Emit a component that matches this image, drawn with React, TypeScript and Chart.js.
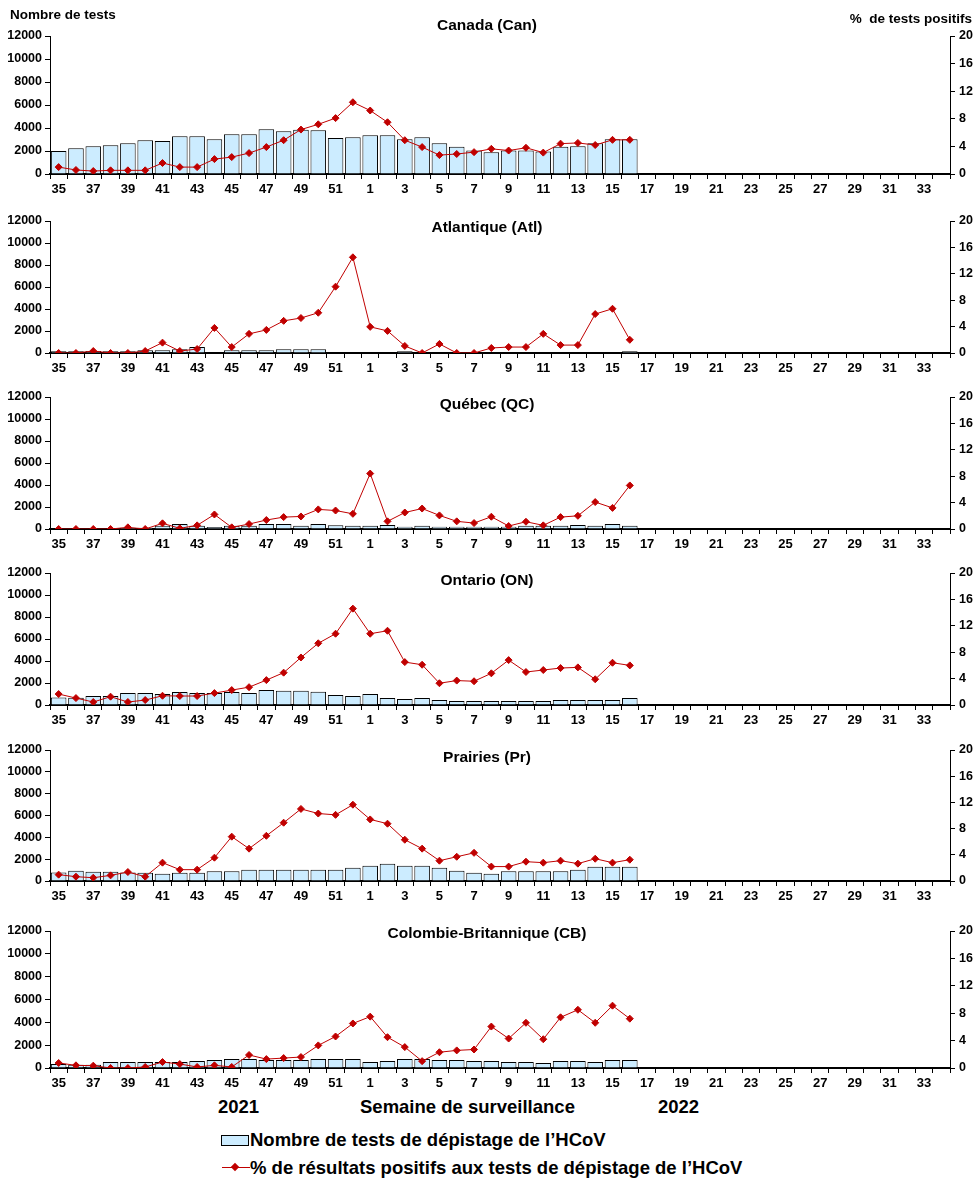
import React, { useEffect, useRef } from 'react';
import { Chart, registerables } from 'chart.js';

Chart.register(...registerables);

const FONT = '"Liberation Sans", Arial, Helvetica, sans-serif';
const RED = '#C00000';
const BLUE = '#CCECFF';

const weeks = [
  '35', '36', '37', '38', '39', '40', '41', '42', '43', '44', '45', '46', '47', '48', '49', '50', '51', '52',
  '1', '2', '3', '4', '5', '6', '7', '8', '9', '10', '11', '12', '13', '14', '15', '16', '17', '18', '19',
  '20', '21', '22', '23', '24', '25', '26', '27', '28', '29', '30', '31', '32', '33', '34',
];

const leftTicks = [0, 2000, 4000, 6000, 8000, 10000, 12000];
const rightTicks = [0, 4, 8, 12, 16, 20];

const canTests = [2000, 2250, 2420, 2510, 2680, 2940, 2860, 3290, 3290, 3030, 3460, 3460, 3890, 3720, 3840, 3810, 3120, 3200,
  3370, 3370, 3030, 3200, 2680, 2370, 2050, 1900, 2050, 2050, 1960, 2370, 2420, 2680, 3030, 3030];
const canPct = [1.0, 0.58, 0.43, 0.53, 0.53, 0.53, 1.59, 1.0, 1.0, 2.16, 2.45, 3.03, 3.9, 4.9, 6.44, 7.2, 8.1, 10.4,
  9.2, 7.5, 4.9, 3.9, 2.74, 2.9, 3.17, 3.65, 3.4, 3.8, 3.1, 4.4, 4.5, 4.2, 4.95, 4.95];

const atlTests = [150, 150, 180, 150, 150, 240, 240, 330, 550, 40, 240, 240, 240, 330, 330, 330, 40, 40,
  40, 40, 150, 40, 40, 40, 40, 40, 40, 40, 40, 40, 40, 40, 40, 150];
const atlPct = [0, 0, 0.3, 0, 0, 0.3, 1.57, 0.3, 0.6, 3.8, 0.9, 2.9, 3.5, 4.87, 5.3, 6.1, 10.05, 14.5,
  3.96, 3.35, 1.07, 0, 1.37, 0, 0, 0.76, 0.9, 0.9, 2.9, 1.2, 1.2, 5.9, 6.7, 2.0];

const qcTests = [60, 60, 60, 60, 120, 120, 300, 450, 300, 180, 300, 300, 450, 450, 300, 450, 330, 300,
  300, 360, 210, 300, 210, 210, 210, 210, 210, 300, 300, 300, 360, 300, 450, 300];
const qcPct = [0, 0, 0, 0, 0.25, 0, 0.86, 0.1, 0.55, 2.2, 0.25, 0.75, 1.36, 1.8, 1.9, 2.97, 2.8, 2.3,
  8.4, 1.16, 2.5, 3.1, 2.06, 1.16, 0.9, 1.86, 0.45, 1.1, 0.55, 1.8, 2.0, 4.08, 3.2, 6.6];

const onTests = [690, 660, 810, 810, 1090, 1090, 990, 1180, 1090, 1090, 1180, 1090, 1360, 1300, 1300, 1200, 900, 810,
  990, 630, 540, 630, 450, 360, 360, 360, 360, 360, 360, 450, 450, 450, 450, 630];
const onPct = [1.66, 1.05, 0.45, 1.26, 0.45, 0.75, 1.4, 1.36, 1.36, 1.8, 2.26, 2.7, 3.77, 4.9, 7.2, 9.35, 10.8, 14.6,
  10.8, 11.25, 6.5, 6.1, 3.3, 3.7, 3.6, 4.8, 6.8, 5.0, 5.3, 5.6, 5.7, 3.9, 6.4, 6.0];

const prTests = [790, 950, 850, 850, 790, 760, 670, 760, 760, 890, 890, 1040, 1040, 1040, 1040, 1040, 1040, 1220,
  1400, 1590, 1400, 1400, 1220, 950, 760, 670, 890, 890, 890, 890, 1040, 1310, 1310, 1310];
const prPct = [0.97, 0.66, 0.5, 0.86, 1.37, 0.66, 2.8, 1.73, 1.73, 3.56, 6.77, 4.94, 6.9, 8.9, 11.0, 10.3, 10.1, 11.65,
  9.4, 8.75, 6.3, 4.94, 3.1, 3.7, 4.3, 2.2, 2.2, 2.95, 2.8, 3.1, 2.65, 3.4, 2.8, 3.25];

const cbTests = [350, 290, 290, 520, 520, 520, 520, 520, 610, 700, 780, 780, 700, 700, 700, 780, 780, 780,
  520, 610, 780, 780, 700, 700, 610, 610, 520, 520, 440, 610, 610, 520, 700, 700];
const cbPct = [0.73, 0.39, 0.34, 0, 0, 0.15, 0.87, 0.58, 0.15, 0.39, 0.15, 1.9, 1.3, 1.45, 1.6, 3.3, 4.6, 6.5,
  7.5, 4.5, 3.05, 1.0, 2.3, 2.57, 2.7, 6.05, 4.3, 6.6, 4.2, 7.4, 8.5, 6.6, 9.1, 7.2];

type PanelDef = { title: string; tests: number[]; pct: number[]; top: number; bottom: number; titleY: number };

const panels: PanelDef[] = [
  { title: 'Canada (Can)', tests: canTests, pct: canPct, top: 36, bottom: 174, titleY: 25 },
  { title: 'Atlantique (Atl)', tests: atlTests, pct: atlPct, top: 221, bottom: 353, titleY: 227 },
  { title: 'Québec (QC)', tests: qcTests, pct: qcPct, top: 397, bottom: 529, titleY: 404 },
  { title: 'Ontario (ON)', tests: onTests, pct: onPct, top: 573, bottom: 705, titleY: 580 },
  { title: 'Prairies (Pr)', tests: prTests, pct: prPct, top: 750, bottom: 881, titleY: 757 },
  { title: 'Colombie-Britannique (CB)', tests: cbTests, pct: cbPct, top: 931, bottom: 1068, titleY: 933 },
];

const PAD_TOP = 12;
const AXIS_H = 28;

function padSeries(a: number[]): (number | null)[] {
  const r: (number | null)[] = a.slice();
  while (r.length < weeks.length) r.push(null);
  return r;
}

function Panel({ p }: { p: PanelDef }) {
  const ref = useRef<HTMLCanvasElement | null>(null);
  const h = p.bottom - p.top + PAD_TOP + AXIS_H;
  useEffect(() => {
    if (!ref.current) return;
    const tickFont = { family: FONT, size: 12.5, weight: 'bold' as const };
    const chart = new Chart(ref.current, {
      type: 'bar',
      data: {
        labels: weeks,
        datasets: [
          {
            type: 'line' as const,
            label: '% de résultats positifs aux tests de dépistage de l’HCoV',
            data: padSeries(p.pct),
            yAxisID: 'y1',
            borderColor: RED,
            backgroundColor: RED,
            borderWidth: 1,
            pointStyle: 'rectRot',
            pointRadius: 3.5,
            pointBackgroundColor: RED,
            pointBorderColor: RED,
            pointBorderWidth: 1,
            tension: 0,
            spanGaps: false,
            order: 0,
          },
          {
            type: 'bar' as const,
            label: 'Nombre de tests de dépistage de l’HCoV',
            data: padSeries(p.tests),
            yAxisID: 'y',
            backgroundColor: BLUE,
            borderColor: '#000000',
            borderWidth: 1,
            barPercentage: 0.9,
            categoryPercentage: 1,
            order: 1,
          },
        ] as any,
      },
      options: {
        responsive: false,
        animation: false,
        layout: { padding: { top: PAD_TOP, left: 0, right: 0, bottom: 0 } },
        plugins: { legend: { display: false }, tooltip: { enabled: false }, title: { display: false } },
        scales: {
          x: {
            type: 'category',
            offset: true,
            grid: { display: true, drawOnChartArea: false, offset: true, tickLength: 5, color: '#000000', lineWidth: 1 },
            border: { display: true, color: '#000000', width: 2 },
            ticks: {
              autoSkip: false,
              maxRotation: 0,
              minRotation: 0,
              padding: 3,
              color: '#000000',
              font: { family: FONT, size: 13, weight: 'bold' },
              callback: (_v: any, i: number) => (i % 2 === 0 ? weeks[i] : ''),
            },
            afterFit: (s: any) => { s.height = AXIS_H; },
          },
          y: {
            position: 'left',
            min: leftTicks[0],
            max: leftTicks[leftTicks.length - 1],
            afterBuildTicks: (s: any) => { s.ticks = leftTicks.map((v) => ({ value: v })); },
            grid: { drawOnChartArea: false, tickLength: 5, color: '#000000' },
            border: { display: true, color: '#000000', width: 1 },
            ticks: { padding: 3, color: '#000000', font: tickFont, callback: (v: any) => String(v) },
            afterFit: (s: any) => { s.width = 50; },
          },
          y1: {
            position: 'right',
            min: rightTicks[0],
            max: rightTicks[rightTicks.length - 1],
            afterBuildTicks: (s: any) => { s.ticks = rightTicks.map((v) => ({ value: v })); },
            grid: { drawOnChartArea: false, tickLength: 5, color: '#000000' },
            border: { display: true, color: '#000000', width: 1 },
            ticks: { padding: 4, color: '#000000', font: tickFont, callback: (v: any) => String(v) },
            afterFit: (s: any) => { s.width = 26; },
          },
        },
      } as any,
    });
    return () => chart.destroy();
  }, [p]);
  return (
    <canvas
      ref={ref}
      width={976}
      height={h}
      style={{ position: 'absolute', left: 0, top: p.top - PAD_TOP, width: 976, height: h }}
    />
  );
}

const textBase: React.CSSProperties = {
  position: 'absolute',
  fontFamily: FONT,
  fontWeight: 'bold',
  color: '#000',
  whiteSpace: 'nowrap',
};

export default function App() {
  return (
    <div style={{ position: 'absolute', left: 0, top: 0, width: 976, height: 1184, background: '#fff', overflow: 'hidden' }}>
      {panels.map((p) => (
        <Panel key={p.title} p={p} />
      ))}
      {panels.map((p) => (
        <div
          key={p.title + '-t'}
          style={{ ...textBase, left: 287, width: 400, textAlign: 'center', top: p.titleY - 10, height: 20, lineHeight: '20px', fontSize: 15.5 }}
        >
          {p.title}
        </div>
      ))}
      <div style={{ ...textBase, left: 10, top: 6, lineHeight: '18px', fontSize: 13.5 }}>Nombre de tests</div>
      <div style={{ ...textBase, right: 4, top: 10, lineHeight: '18px', fontSize: 13.5 }}>%&nbsp; de tests positifs</div>

      <div style={{ ...textBase, left: 218, top: 1096, lineHeight: '22px', fontSize: 18.5 }}>2021</div>
      <div style={{ ...textBase, left: 360, top: 1096, lineHeight: '22px', fontSize: 18.5 }}>Semaine de surveillance</div>
      <div style={{ ...textBase, left: 658, top: 1096, lineHeight: '22px', fontSize: 18.5 }}>2022</div>

      <div style={{ position: 'absolute', left: 221, top: 1135, width: 26, height: 9, background: BLUE, border: '1px solid #000' }} />
      <div style={{ ...textBase, left: 250, top: 1129, lineHeight: '22px', fontSize: 18.5 }}>Nombre de tests de dépistage de l’HCoV</div>

      <div style={{ position: 'absolute', left: 222, top: 1167, width: 28, height: 1, background: RED }} />
      <div style={{ position: 'absolute', left: 232, top: 1164, width: 6, height: 6, background: RED, transform: 'rotate(45deg)' }} />
      <div style={{ ...textBase, left: 250, top: 1157, lineHeight: '22px', fontSize: 18.5 }}>% de résultats positifs aux tests de dépistage de l’HCoV</div>
    </div>
  );
}
